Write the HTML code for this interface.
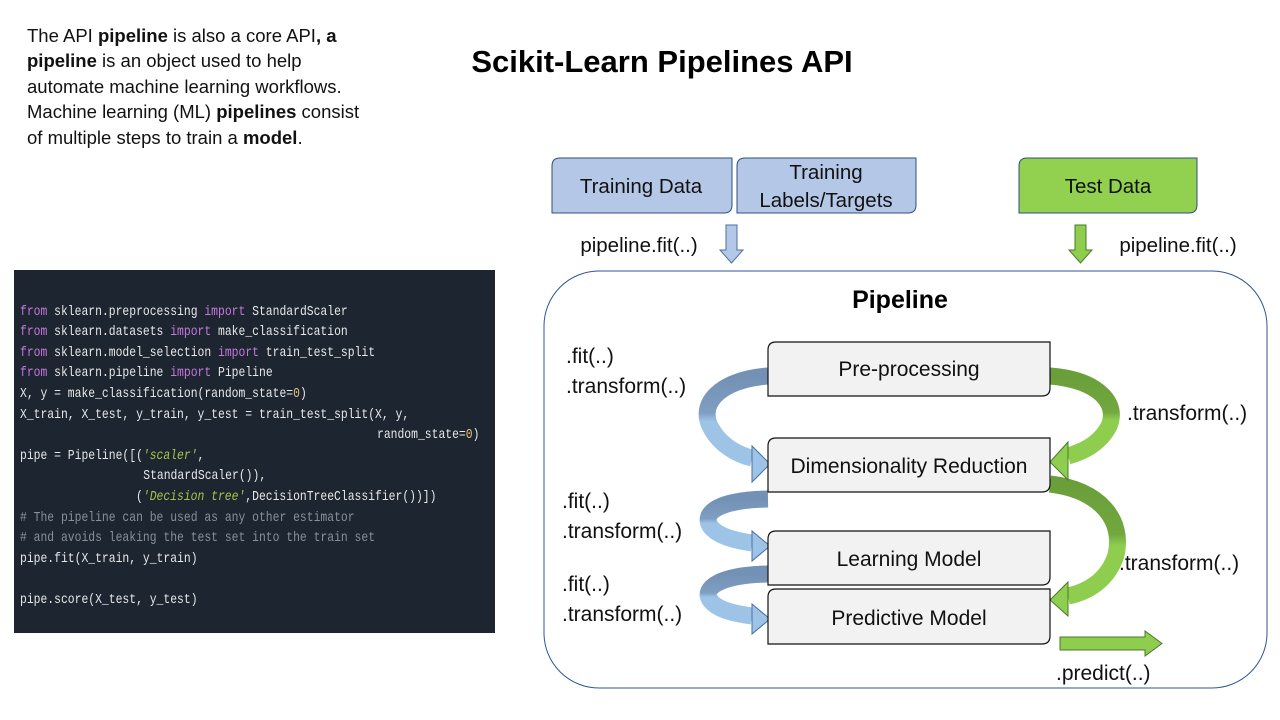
<!DOCTYPE html>
<html><head><meta charset="utf-8"><style>
html,body{margin:0;padding:0;background:#fff;}
svg{display:block}
text{font-family:"Liberation Sans",sans-serif;}
.m text{font-family:"Liberation Mono",monospace;font-size:13.4px;fill:#e8e8e8}
.k{fill:#c678dd}.s{fill:#a6c44a;font-style:italic}.n{fill:#e5c07b}
.m text.c{fill:#8a8f98}
</style></head><body>
<svg width="1280" height="720" viewBox="0 0 1280 720" xmlns="http://www.w3.org/2000/svg">
<defs>
<linearGradient id="bg" x1="0" y1="0" x2="0" y2="1"><stop offset="0" stop-color="#7291b4"/><stop offset="0.45" stop-color="#7f9fc2"/><stop offset="0.55" stop-color="#9dc3e6"/><stop offset="1" stop-color="#9dc3e6"/></linearGradient>
<linearGradient id="gg" x1="0" y1="0" x2="0" y2="1"><stop offset="0" stop-color="#6a9e3a"/><stop offset="0.45" stop-color="#72a83f"/><stop offset="0.55" stop-color="#8fcd4f"/><stop offset="1" stop-color="#8fcd4f"/></linearGradient>
</defs>
<!-- intro text -->
<g font-size="18.5" fill="#111">
<text x="27" y="42">The API <tspan font-weight="bold">pipeline</tspan> is also a core API<tspan font-weight="bold">, a</tspan></text>
<text x="27" y="67"><tspan font-weight="bold">pipeline</tspan> is an object used to help</text>
<text x="27" y="93">automate machine learning workflows.</text>
<text x="27" y="118">Machine learning (ML) <tspan font-weight="bold">pipelines</tspan> consist</text>
<text x="27" y="144">of multiple steps to train a <tspan font-weight="bold">model</tspan>.</text>
</g>
<text x="662" y="72" font-size="31" font-weight="bold" text-anchor="middle" fill="#000">Scikit-Learn Pipelines API</text>
<!-- code -->
<rect x="14" y="270" width="481" height="363" fill="#1c2530"/>
<g class="m" transform="translate(20,0) scale(0.85,1)">
<text x="0" y="315"><tspan class="k">from</tspan> sklearn.preprocessing <tspan class="k">import</tspan> StandardScaler</text>
<text x="0" y="335"><tspan class="k">from</tspan> sklearn.datasets <tspan class="k">import</tspan> make_classification</text>
<text x="0" y="356"><tspan class="k">from</tspan> sklearn.model_selection <tspan class="k">import</tspan> train_test_split</text>
<text x="0" y="376"><tspan class="k">from</tspan> sklearn.pipeline <tspan class="k">import</tspan> Pipeline</text>
<text x="0" y="397">X, y = make_classification(random_state=<tspan class="n">0</tspan>)</text>
<text x="0" y="418">X_train, X_test, y_train, y_test = train_test_split(X, y,</text>
<text x="420" y="438">random_state=<tspan class="n">0</tspan>)</text>
<text x="0" y="459">pipe = Pipeline([(<tspan class="s">'scaler'</tspan>,</text>
<text x="145" y="479">StandardScaler()),</text>
<text x="136.5" y="500">(<tspan class="s">'Decision tree'</tspan>,DecisionTreeClassifier())])</text>
<text x="0" y="521" class="c"># The pipeline can be used as any other estimator</text>
<text x="0" y="541" class="c"># and avoids leaking the test set into the train set</text>
<text x="0" y="562">pipe.fit(X_train, y_train)</text>
<text x="0" y="603">pipe.score(X_test, y_test)</text>
</g>
<!-- top boxes -->
<path d="M560,158 H732 V205 Q732,213 724,213 H552 V166 Q552,158 560,158Z" fill="#b4c7e7" stroke="#2f4f7f" stroke-width="1"/>
<path d="M745,158 H916 V205 Q916,213 908,213 H737 V166 Q737,158 745,158Z" fill="#b4c7e7" stroke="#2f4f7f" stroke-width="1"/>
<path d="M1027,158 H1197 V205 Q1197,213 1189,213 H1019 V166 Q1019,158 1027,158Z" fill="#92d050" stroke="#2f4f7f" stroke-width="1"/>
<g font-size="20.5" fill="#111" text-anchor="middle">
<text x="641" y="193">Training Data</text>
<text x="826" y="179">Training</text>
<text x="826" y="207">Labels/Targets</text>
<text x="1108" y="193">Test Data</text>
<text x="639" y="252">pipeline.fit(..)</text>
<text x="1178" y="252">pipeline.fit(..)</text>
</g>
<polygon points="726,225 737,225 737,250 743,250 731.5,263 720,250 726,250" fill="#b4c7e7" stroke="#4a6fa5" stroke-width="1"/>
<polygon points="1075,225 1086,225 1086,250 1092,250 1080.5,263 1069,250 1075,250" fill="#8fcd4f" stroke="#4a7a2a" stroke-width="1"/>
<!-- pipeline container -->
<rect x="544" y="271" width="723" height="417" rx="55" fill="#fff" stroke="#2f5597" stroke-width="1"/>
<text x="900" y="308" font-size="25" font-weight="bold" text-anchor="middle">Pipeline</text>
<!-- blue curved arrows -->
<g fill="none" stroke="url(#bg)" stroke-width="17">
<path d="M768,376 C718,380 698,405 711,428 C720,445 738,455 752,458"/>
<path d="M768,499 C720,500 702,512 710,526 C718,537 738,541 752,543"/>
<path d="M768,574 C720,575 702,588 710,600 C718,611 738,614 752,616"/>
</g>
<polygon points="752,446 770,464 752,482" fill="#9dc3e6" stroke="#4a6fa5" stroke-width="1"/>
<polygon points="752,531 770,546 752,561" fill="#9dc3e6" stroke="#4a6fa5" stroke-width="1"/>
<polygon points="752,604 770,619 752,634" fill="#9dc3e6" stroke="#4a6fa5" stroke-width="1"/>
<!-- green curved arrows -->
<g fill="none" stroke="url(#gg)" stroke-width="17">
<path d="M1050,376 C1100,380 1120,405 1108,428 C1098,445 1082,452 1068,456"/>
<path d="M1050,484 C1100,490 1124,520 1116,555 C1108,580 1088,592 1068,596"/>
</g>
<polygon points="1068,442 1050,462 1068,480" fill="#8fcd4f" stroke="#4a7a2a" stroke-width="1"/>
<polygon points="1068,582 1050,600 1068,616" fill="#8fcd4f" stroke="#4a7a2a" stroke-width="1"/>
<!-- predict arrow -->
<polygon points="1060,637 1145,637 1145,631 1162,643.5 1145,656 1145,650 1060,650" fill="#8fcd4f" stroke="#4a7a2a" stroke-width="1"/>
<!-- step boxes -->
<g fill="#f2f2f2" stroke="#111" stroke-width="1.2">
<path d="M776,342 H1050 V388 Q1050,396 1042,396 H768 V350 Q768,342 776,342Z"/>
<path d="M776,438 H1050 V484 Q1050,492 1042,492 H768 V446 Q768,438 776,438Z"/>
<path d="M776,531 H1050 V577 Q1050,585 1042,585 H768 V539 Q768,531 776,531Z"/>
<path d="M776,589 H1050 V636 Q1050,644 1042,644 H768 V597 Q768,589 776,589Z"/>
</g>
<g font-size="21" fill="#111" text-anchor="middle">
<text x="909" y="376">Pre-processing</text>
<text x="909" y="473">Dimensionality Reduction</text>
<text x="909" y="566">Learning Model</text>
<text x="909" y="625">Predictive Model</text>
</g>
<g font-size="21" fill="#111">
<text x="566" y="363">.fit(..)</text>
<text x="566" y="393">.transform(..)</text>
<text x="562" y="508">.fit(..)</text>
<text x="562" y="538">.transform(..)</text>
<text x="562" y="591">.fit(..)</text>
<text x="562" y="621">.transform(..)</text>
<text x="1127" y="420">.transform(..)</text>
<text x="1119" y="570">.transform(..)</text>
<text x="1056" y="680">.predict(..)</text>
</g>
</svg>
</body></html>
